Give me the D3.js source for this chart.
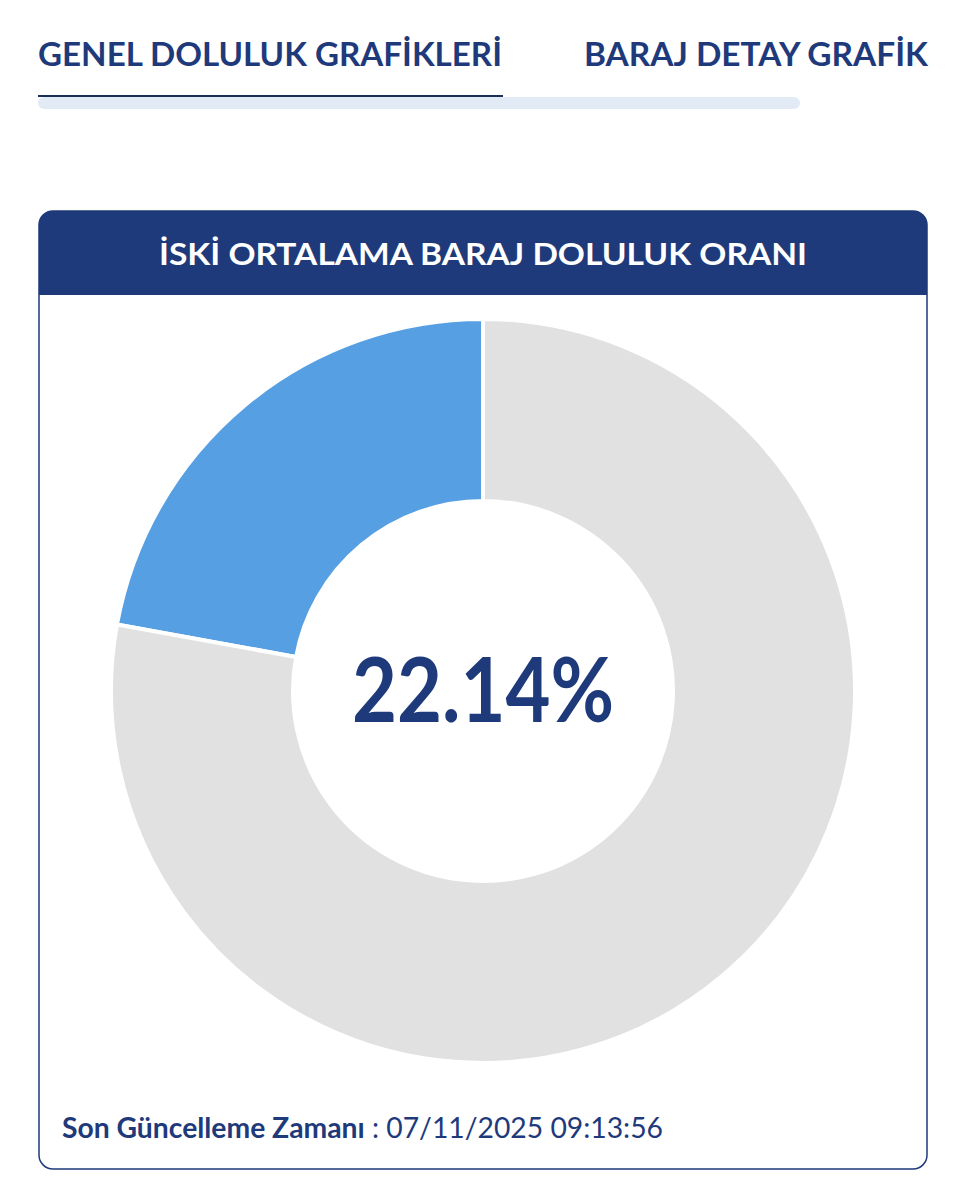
<!DOCTYPE html>
<html>
<head>
<meta charset="utf-8">
<script src="https://cdn.jsdelivr.net/npm/d3@7"></script>
<style>
  html, body { margin: 0; padding: 0; background: #ffffff; }
  svg { display: block; }
</style>
</head>
<body>
<script>
// data
const tabs = ['GENEL DOLULUK GRAFİKLERİ', 'BARAJ DETAY GRAFİK']
const title = 'İSKİ ORTALAMA BARAJ DOLULUK ORANI'
const labels = ['Dolu', 'Boş']
const values = [22.14, 77.86]
const updateLabel = 'Son Güncelleme Zamanı'
const updateTime = '07/11/2025 09:13:56'

// window stuff
width = 966
height = 1199
navy = '#1e3a7b'
colors = ['#579fe3', '#e1e1e1']
font = "Lato, 'Noto Sans', sans-serif"

svg = d3.select('body').append('svg')
  .attr('width', width)
  .attr('height', height)
  .attr('font-family', font)

// tabs
svg.append('text')
  .attr('x', 38).attr('y', 66)
  .attr('fill', navy)
  .attr('font-size', 32)
  .attr('font-weight', 700)
  .attr('textLength', 464)
  .attr('lengthAdjust', 'spacingAndGlyphs')
  .text(tabs[0])
svg.append('text')
  .attr('x', 928).attr('y', 66)
  .attr('text-anchor', 'end')
  .attr('fill', navy)
  .attr('font-size', 32)
  .attr('font-weight', 700)
  .attr('textLength', 344)
  .attr('lengthAdjust', 'spacingAndGlyphs')
  .text(tabs[1])

// tab bar
svg.append('rect')
  .attr('x', 38).attr('y', 97)
  .attr('width', 762).attr('height', 12)
  .attr('rx', 6)
  .attr('fill', '#e2eaf6')
svg.append('rect')
  .attr('x', 38).attr('y', 95)
  .attr('width', 465).attr('height', 2)
  .attr('fill', '#1b2e55')

// card
const card = {x: 39, y: 211, w: 888, h: 958, r: 14, head: 84}
const clip = svg.append('clipPath').attr('id', 'cardclip')
clip.append('rect')
  .attr('x', card.x).attr('y', card.y)
  .attr('width', card.w).attr('height', card.h)
  .attr('rx', card.r)
svg.append('rect')
  .attr('x', card.x).attr('y', card.y)
  .attr('width', card.w).attr('height', card.head)
  .attr('clip-path', 'url(#cardclip)')
  .attr('fill', navy)
svg.append('rect')
  .attr('x', card.x).attr('y', card.y)
  .attr('width', card.w).attr('height', card.h)
  .attr('rx', card.r)
  .attr('fill', 'none')
  .attr('stroke', navy)
  .attr('stroke-width', 1.5)

svg.append('text')
  .attr('x', 483).attr('y', 265)
  .attr('text-anchor', 'middle')
  .attr('fill', '#ffffff')
  .attr('font-size', 31)
  .attr('font-weight', 700)
  .attr('textLength', 648)
  .attr('lengthAdjust', 'spacingAndGlyphs')
  .text(title)

// donut
const cx = 483, cy = 691
const pie = d3.pie().sort(null).startAngle(0).endAngle(-2 * Math.PI)
const arc = d3.arc().innerRadius(190).outerRadius(372)

const g = svg.append('g').attr('transform', `translate(${cx}, ${cy})`)
g.selectAll('path').data(pie(values)).join('path')
  .attr('d', arc)
  .attr('fill', (d, i) => colors[i])
  .attr('stroke', '#ffffff')
  .attr('stroke-width', 4)

g.append('text')
  .attr('x', 0).attr('y', 31)
  .attr('text-anchor', 'middle')
  .attr('fill', navy)
  .attr('font-size', 90)
  .attr('font-weight', 700)
  .attr('textLength', 262)
  .attr('lengthAdjust', 'spacingAndGlyphs')
  .text(d3.format('.2f')(values[0]) + '%')

// footer
const foot = svg.append('text')
  .attr('x', 62).attr('y', 1138)
  .attr('fill', navy)
  .attr('font-size', 28)
  .attr('textLength', 601)
  .attr('lengthAdjust', 'spacingAndGlyphs')
foot.append('tspan')
  .attr('font-weight', 700)
  .text(updateLabel)
foot.append('tspan')
  .attr('font-weight', 400)
  .text(' : ' + updateTime)
</script>
</body>
</html>
